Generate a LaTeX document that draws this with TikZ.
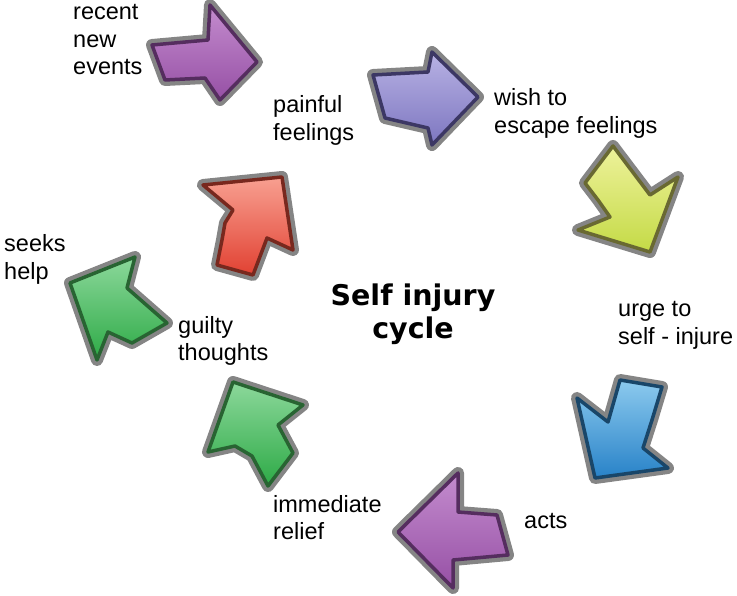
\documentclass[tikz,border=0pt]{standalone}
\usepackage{fontspec}
\setmainfont{Liberation Sans}
\newfontfamily\titlefont{DejaVu Sans}
\definecolor{pAtop}{RGB}{196,140,206}
\definecolor{pAbot}{RGB}{150,80,165}
\definecolor{pAbd}{RGB}{85,45,95}
\definecolor{lvtop}{RGB}{184,178,228}
\definecolor{lvbot}{RGB}{125,118,192}
\definecolor{lvbd}{RGB}{60,55,100}
\definecolor{yltop}{RGB}{238,242,155}
\definecolor{ylbot}{RGB}{196,218,70}
\definecolor{ylbd}{RGB}{105,105,50}
\definecolor{bltop}{RGB}{140,202,238}
\definecolor{blbot}{RGB}{40,130,200}
\definecolor{blbd}{RGB}{25,70,105}
\definecolor{grtop}{RGB}{140,216,155}
\definecolor{grbot}{RGB}{45,170,70}
\definecolor{grbd}{RGB}{40,100,50}
\definecolor{rdtop}{RGB}{248,160,145}
\definecolor{rdbot}{RGB}{225,65,50}
\definecolor{rdbd}{RGB}{120,40,30}
\newcommand\cyclearrow[4]{%
  \path[halo] #1 -- cycle;
  \shade[top color=#2,bottom color=#3,draw=#4,line width=3.5pt,line join=round] #1 -- cycle;}
\begin{document}
\begin{tikzpicture}[x=1pt,y=-1pt,
  halo/.style={draw=black!48,line width=12pt,line join=round},
  lbl/.style={anchor=base west,inner sep=0pt,align=left,font=\fontsize{23.5}{27.5}\selectfont},
  ttl/.style={anchor=base,inner sep=0pt,align=center,font=\titlefont\bfseries\fontsize{28.5}{33}\selectfont}]
\useasboundingbox (0,0) rectangle (737,596);
% arrows
\cyclearrow{(152,45) -- (208,40) -- (210,5) -- (257,62) -- (220,100) -- (205,78) -- (165,80)}{pAtop}{pAbot}{pAbd}
\cyclearrow{(373,75) -- (428,72) -- (432,52) -- (478,97) -- (432,145) -- (428,128) -- (385,118)}{lvtop}{lvbot}{lvbd}
\cyclearrow{(613,146) -- (650,195) -- (678,177) -- (650,252) -- (578,230) -- (610,217) -- (598,200) -- (585,183)}{yltop}{ylbot}{ylbd}
\cyclearrow{(577,398) -- (608,422) -- (620,380) -- (662,387) -- (652,420) -- (643,448) -- (668,468) -- (595,478)}{bltop}{blbot}{blbd}
\cyclearrow{(398,532) -- (458,473) -- (458,512) -- (497,515) -- (508,555) -- (453,560) -- (453,588)}{pAtop}{pAbot}{pAbd}
\cyclearrow{(233,382) -- (303,405) -- (278,425) -- (293,453) -- (268,486) -- (252,456) -- (235,446) -- (208,452)}{grtop}{grbot}{grbd}
\cyclearrow{(70,283) -- (135,257) -- (127,288) -- (167,323) -- (132,343) -- (108,332) -- (97,360)}{grtop}{grbot}{grbd}
\cyclearrow{(203,185) -- (282,177) -- (293,250) -- (267,238) -- (253,275) -- (217,265) -- (222,240) -- (225,223) -- (233,210)}{rdtop}{rdbot}{rdbd}
% labels (base = baseline of the last line)
\node[lbl] (recent) at (73,75) {recent\\new\\events};
\node[lbl] (painful) at (273,140.5) {painful\\feelings};
\node[lbl] (wish) at (494,133.5) {wish to\\escape feelings};
\node[lbl] (urge) at (618,344.5) {urge to\\self - injure};
\node[lbl] (acts) at (524,528) {acts};
\node[lbl] (relief) at (273,539.5) {immediate\\relief};
\node[lbl] (guilty) at (178,360.5) {guilty\\thoughts};
\node[lbl] (seeks) at (4,279.5) {seeks\\help};
\node[ttl] (title) at (413,338) {Self injury\\cycle};
\end{tikzpicture}
\end{document}
